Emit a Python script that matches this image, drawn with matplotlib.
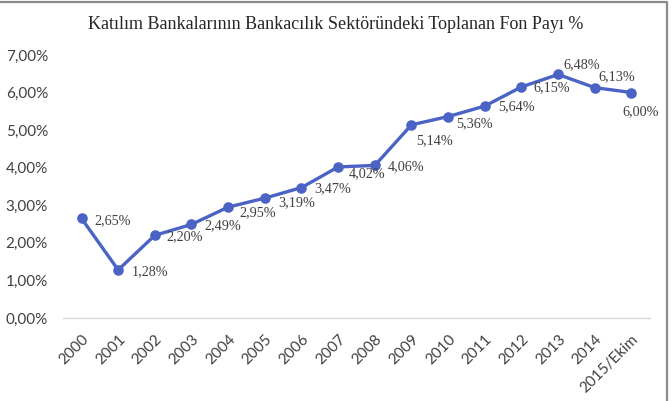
import numpy as np
import matplotlib
matplotlib.use('Agg')
import matplotlib.pyplot as plt
import matplotlib.ticker as ticker
from matplotlib.lines import Line2D

years = ['2000', '2001', '2002', '2003', '2004', '2005', '2006', '2007',
         '2008', '2009', '2010', '2011', '2012', '2013', '2014', '2015/Ekim']
share = [2.65, 1.28, 2.20, 2.49, 2.95, 3.19, 3.47, 4.02,
         4.06, 5.14, 5.36, 5.64, 6.15, 6.48, 6.13, 6.00]
title = 'Katılım Bankalarının Bankacılık Sektöründeki Toplanan Fon Payı %'

# label offsets in pixels (dx to left edge, dy up) - where excel put them
offs = [(13, -2), (14, -2), (12, -1), (13, -1), (11, -6), (13, -5), (13, -1), (11, -7),
        (13, -1), (5, -16), (8, -7), (13, -1), (12, -1), (5, 10), (4, 11), (-9, -19)]

fig = plt.figure(figsize=(6.72, 4.01), dpi=100)
ax = fig.add_axes([0.094, 0.207, 0.873, 0.656])

x = np.arange(len(years))
ax.plot(x, share, color='#4a63c5', lw=2.4, marker='o', ms=6.6, zorder=3,
        solid_joinstyle='round')

for i in range(len(x)):
    dx, dy = offs[i]
    ax.annotate('{:.2f}%'.format(share[i]).replace('.', ','), (x[i], share[i]),
                xytext=(dx, dy), textcoords='offset pixels', ha='left', va='center',
                fontsize=10.2, family='Liberation Serif', color='#404040')

ax.set_xlim(-0.5, len(years) - 0.5)
ax.set_ylim(0, 7)
ax.set_yticks(np.arange(0, 8, 1))
ax.yaxis.set_major_formatter(ticker.FuncFormatter(
    lambda v, pos: '{:.2f}%'.format(v).replace('.', ',')))
ax.set_xticks(x)
ax.set_xticklabels(years, rotation=45, ha='right', rotation_mode='anchor')

for s in ['top', 'right', 'left']:
    ax.spines[s].set_visible(False)
ax.spines['bottom'].set_color('#d9d9d9')
ax.spines['bottom'].set_linewidth(1)
ax.tick_params(length=0, labelsize=11, labelcolor='#404040')
for lab in ax.get_xticklabels() + ax.get_yticklabels():
    lab.set_family('Lato')
ax.tick_params(axis='y', pad=11)
ax.tick_params(axis='x', pad=10)

fig.text(0.5, 0.938, title, ha='center', va='center', fontsize=13,
         family='Liberation Serif', color='#262626')

# chart frame (top and right edges show in the crop)
fig.add_artist(Line2D([0, 0.992, 0.992], [0.995, 0.995, 0], color='#8c8c8c',
                      lw=1.6, transform=fig.transFigure))

fig.savefig('out.png', dpi=100)
